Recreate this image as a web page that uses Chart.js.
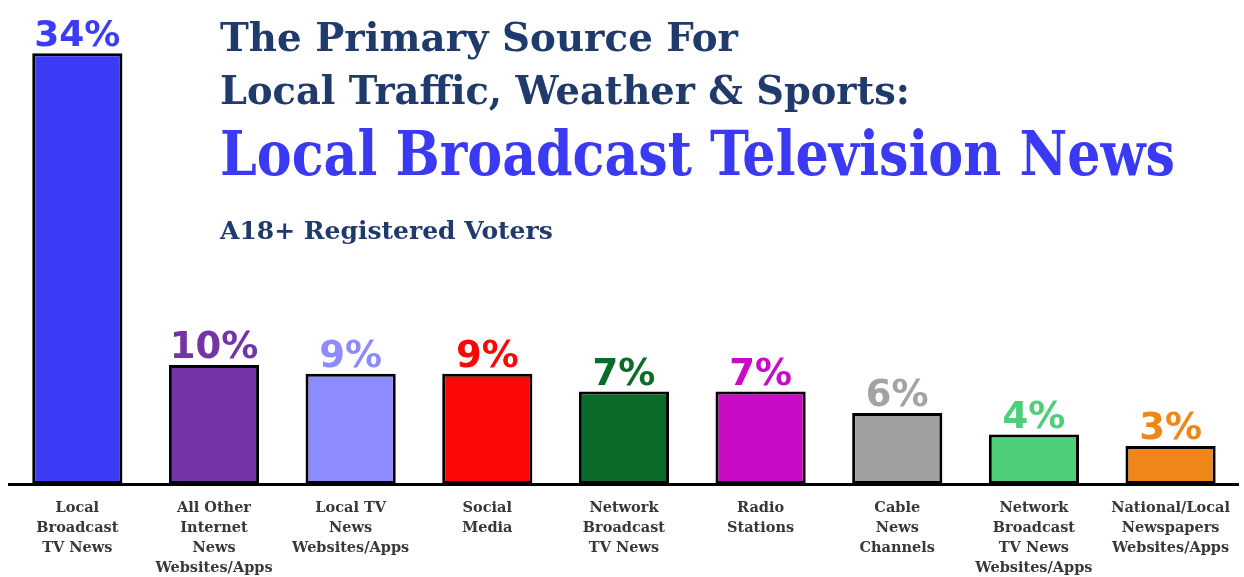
<!DOCTYPE html>
<html>
<head>
<meta charset="utf-8">
<script src="https://cdn.jsdelivr.net/npm/chart.js@4/dist/chart.umd.min.js"></script>
<style>
    html, body { margin: 0; padding: 0; background: #fff; }
    #wrap { position: relative; width: 1244px; height: 577px; }
</style>
</head>
<body>
<div id="wrap"><canvas id="chart"></canvas></div>
<script>
// ─── Данные ─────────────────────────────────────────────────────────────────

const categories = [
    ["Local", "Broadcast", "TV News"],
    ["All Other", "Internet", "News", "Websites/Apps"],
    ["Local TV", "News", "Websites/Apps"],
    ["Social", "Media"],
    ["Network", "Broadcast", "TV News"],
    ["Radio", "Stations"],
    ["Cable", "News", "Channels"],
    ["Network", "Broadcast", "TV News", "Websites/Apps"],
    ["National/Local", "Newspapers", "Websites/Apps"],
];

// высоты столбцов, как они нарисованы в оригинале
const shares = [34, 9.4, 8.7, 8.7, 7.3, 7.3, 5.6, 3.9, 3.0];
// подписи над столбцами, как напечатаны
const shareLabels = ["34%", "10%", "9%", "9%", "7%", "7%", "6%", "4%", "3%"];

const barColors = ["#3c3cf6", "#7434a8", "#8c8cff", "#ff0606", "#0c6b2a", "#c80cc6", "#a0a0a0", "#4ccf78", "#ee8718"];
const labelColors = ["#3c3cf6", "#7434a8", "#8c8cff", "#ff0606", "#0c6b2a", "#c80cc6", "#a3a3a3", "#4ccf78", "#ee8718"];

const titleLines = ["The Primary Source For", "Local Traffic, Weather & Sports:"];
const headline = "Local Broadcast Television News";
const subtitle = "A18+ Registered Voters";

const SLAB = '"DejaVu Serif", serif';
const SLAB_NARROW = '"DejaVu Serif Condensed", "DejaVu Serif", serif';

// ─── Плагины: подписи значений и заголовок ───────────────────────────────────

const valueLabels = {
    id: "valueLabels",
    afterDatasetsDraw(chart) {
        const ctx = chart.ctx;
        const meta = chart.getDatasetMeta(0);
        ctx.save();
        ctx.textAlign = "center";
        ctx.textBaseline = "alphabetic";
        meta.data.forEach((bar, i) => {
            ctx.font = `bold ${i === 0 ? 36 : 37}px "DejaVu Sans", sans-serif`;
            ctx.fillStyle = labelColors[i];
            ctx.fillText(shareLabels[i], bar.x, bar.y - 7);
        });
        ctx.restore();
    },
};

const titleBlock = {
    id: "titleBlock",
    afterDraw(chart) {
        const ctx = chart.ctx;
        ctx.save();
        ctx.textAlign = "left";
        ctx.textBaseline = "alphabetic";

        // maxWidth поджимает ширину строки под оригинал
        ctx.fillStyle = "#1f3a6b";
        ctx.font = `bold 40px ${SLAB}`;
        ctx.fillText(titleLines[0], 220, 51, 518);
        ctx.fillText(titleLines[1], 220, 104, 690);

        ctx.fillStyle = "#3a3af4";
        ctx.font = `bold 62px ${SLAB_NARROW}`;
        ctx.fillText(headline, 220, 175, 955);

        ctx.fillStyle = "#1f3a6b";
        ctx.font = `bold 25px ${SLAB}`;
        ctx.fillText(subtitle, 220, 239, 338);
        ctx.restore();
    },
};

// ─── График ─────────────────────────────────────────────────────────────────

new Chart(document.getElementById("chart"), {
    type: "bar",
    data: {
        labels: categories,
        datasets: [{
            data: shares,
            backgroundColor: barColors,
            borderColor: "#000",
            borderWidth: 3,
            borderSkipped: false,
            barPercentage: 0.66,
            categoryPercentage: 1,
        }],
    },
    options: {
        responsive: true,
        maintainAspectRatio: false,
        animation: false,
        layout: {padding: {top: 28, left: 9, right: 0, bottom: 0}},
        plugins: {
            legend: {display: false},
            title: {display: false},
            tooltip: {enabled: false},
        },
        scales: {
            y: {display: false, min: 0, max: 36},
            x: {
                grid: {display: false, drawTicks: false},
                border: {display: true, color: "#000", width: 3},
                ticks: {
                    color: "#383838",
                    font: {family: SLAB, size: 14.5, weight: "bold", lineHeight: 1.38},
                    padding: 14,
                    maxRotation: 0,
                    autoSkip: false,
                },
                afterFit(scale) {
                    scale.height = 93;
                },
            },
        },
    },
    plugins: [valueLabels, titleBlock],
});
</script>
</body>
</html>
